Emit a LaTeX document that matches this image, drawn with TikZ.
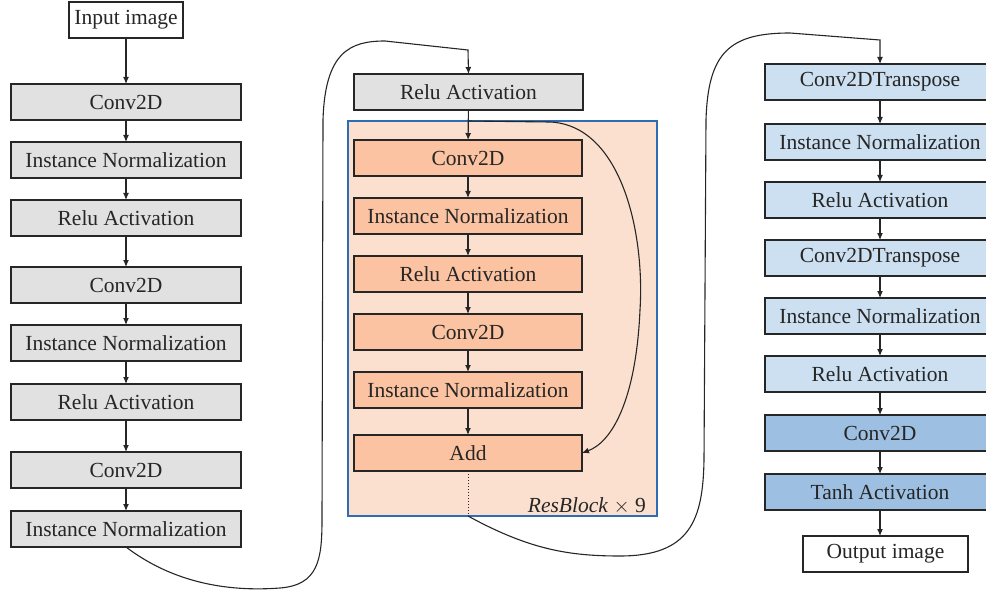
\documentclass[tikz,border=0pt]{standalone}
\usepackage{fontspec}
\setmainfont{Liberation Serif}
\usetikzlibrary{arrows.meta}
\definecolor{ink}{HTML}{262626}
\definecolor{greyfill}{HTML}{E1E1E1}
\definecolor{orangefill}{HTML}{FBC3A1}
\definecolor{blockfill}{HTML}{FCE0CF}
\definecolor{blockline}{HTML}{2E6DB4}
\definecolor{lightblue}{HTML}{CCE0F1}
\definecolor{darkblue}{HTML}{9DC0E2}
\tikzset{
  layer/.style={draw=ink, line width=1.1pt, minimum width=230pt, minimum height=36pt,
    inner sep=0pt, outer sep=0pt, text=ink, font=\fontsize{21.5}{25}\selectfont},
  greybox/.style={layer, fill=greyfill},
  orangebox/.style={layer, fill=orangefill, minimum width=228pt},
  lbluebox/.style={layer, fill=lightblue},
  dbluebox/.style={layer, fill=darkblue},
  iobox/.style={layer, fill=white},
  flow/.style={draw=ink, line width=1.1pt, -{Latex[length=7pt,width=6pt]}},
}
\begin{document}
\begin{tikzpicture}[x=1pt, y=-1pt]
\useasboundingbox (0,0) rectangle (986,591);

% encoder column
\node[iobox, minimum width=114pt] (in) at (126,20) {Input image};
\node[greybox] (e1) at (126,102) {Conv2D};
\node[greybox] (e2) at (126,160) {Instance Normalization};
\node[greybox] (e3) at (126,218) {Relu Activation};
\node[greybox] (e4) at (126,285) {Conv2D};
\node[greybox] (e5) at (126,343) {Instance Normalization};
\node[greybox] (e6) at (126,402) {Relu Activation};
\node[greybox] (e7) at (126,470) {Conv2D};
\node[greybox] (e8) at (126,529) {Instance Normalization};
\foreach \a/\b in {in/e1,e1/e2,e2/e3,e3/e4,e4/e5,e5/e6,e6/e7,e7/e8}
  \draw[flow] (\a) -- (\b);

% residual blocks
\node[draw=blockline, line width=1.1pt, fill=blockfill, minimum width=309pt,
  minimum height=395pt, inner sep=0pt, outer sep=0pt] (res) at (502.5,318.5) {};
\node[greybox, minimum width=229pt] (r0) at (468.5,92) {Relu Activation};
\node[orangebox] (r1) at (468,158) {Conv2D};
\node[orangebox] (r2) at (468,216) {Instance Normalization};
\node[orangebox] (r3) at (468,274) {Relu Activation};
\node[orangebox] (r4) at (468,332) {Conv2D};
\node[orangebox] (r5) at (468,390) {Instance Normalization};
\node[orangebox] (r6) at (468,453) {Add};
\node[anchor=south east, inner sep=0pt, text=ink, font=\fontsize{21.5}{25}\selectfont]
  (reslabel) at (646,514) {\textit{ResBlock} $\times$ 9};
\foreach \a/\b in {r0/r1,r1/r2,r2/r3,r3/r4,r4/r5,r5/r6}
  \draw[flow] (\a) -- (\b);
\coordinate (split) at (r1.north |- res.north);
\coordinate (resout) at (r6.south |- res.south);
\draw[ink, line width=1pt, dotted] (r6.south) -- (resout);
% skip connection
\draw[flow] (split) -- (550,122) .. controls (620,125) and (645,230) .. (640,310)
  .. controls (636,400) and (612,442) .. (r6.east);

% decoder column
\node[lbluebox] (d1) at (880,82) {Conv2DTranspose};
\node[lbluebox] (d2) at (880,142) {Instance Normalization};
\node[lbluebox] (d3) at (880,200) {Relu Activation};
\node[lbluebox] (d4) at (880,258) {Conv2DTranspose};
\node[lbluebox] (d5) at (880,316) {Instance Normalization};
\node[lbluebox] (d6) at (880,374) {Relu Activation};
\node[dbluebox] (d7) at (880,433) {Conv2D};
\node[dbluebox] (d8) at (880,492) {Tanh Activation};
\node[iobox, minimum width=165pt] (out) at (885.5,554) {Output image};
\foreach \a/\b in {d1/d2,d2/d3,d3/d4,d4/d5,d5/d6,d6/d7,d7/d8}
  \draw[flow] (\a) -- (\b);
\draw[flow] (d8.south) -- (d8.south |- out.north);

% links between the columns
\draw[flow] (e8.south) .. controls (180,588) and (240,591) .. (280,588)
  .. controls (318,585) and (322,560) .. (322,520) -- (323,120)
  .. controls (325,52) and (350,41) .. (385,41) -- (468,50) -- (r0.north);
\draw[flow] (resout) .. controls (530,550) and (570,556) .. (620,556)
  .. controls (690,556) and (703,520) .. (704,460) -- (706,120)
  .. controls (708,52) and (730,33) .. (790,33) -- (880,40) -- (d1.north);
\end{tikzpicture}
\end{document}
